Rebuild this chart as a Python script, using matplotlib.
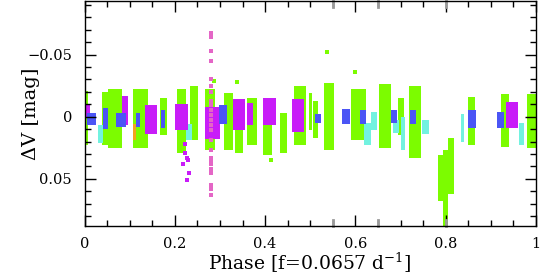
import matplotlib
matplotlib.use("Agg")
import matplotlib.pyplot as plt
import matplotlib.transforms as mtransforms
from matplotlib.ticker import MultipleLocator

# clusters of observations: (phase_lo, phase_hi, dV_lo, dV_hi)
green = [
    (0.000, 0.008, -0.021, 0.023), (0.038, 0.053, -0.020, 0.023),
    (0.053, 0.084, -0.022, 0.025), (0.107, 0.123, -0.022, 0.025),
    (0.123, 0.140, -0.022, 0.025), (0.167, 0.183, -0.015, 0.015),
    (0.205, 0.225, -0.022, 0.029), (0.233, 0.251, -0.025, 0.019),
    (0.267, 0.289, -0.022, 0.027), (0.310, 0.328, -0.019, 0.027),
    (0.333, 0.350, -0.012, 0.029), (0.361, 0.383, -0.015, 0.023),
    (0.395, 0.415, -0.005, 0.031), (0.432, 0.449, -0.003, 0.029),
    (0.465, 0.490, -0.025, 0.023), (0.498, 0.504, -0.019, 0.011),
    (0.507, 0.518, -0.013, 0.017), (0.530, 0.553, -0.027, 0.027),
    (0.590, 0.623, -0.022, 0.019), (0.652, 0.678, -0.026, 0.025),
    (0.694, 0.708, -0.015, 0.015), (0.718, 0.745, -0.025, 0.033),
    (0.784, 0.793, 0.031, 0.068), (0.793, 0.806, 0.027, 0.088),
    (0.806, 0.818, 0.017, 0.062), (0.850, 0.866, -0.016, 0.023),
    (0.923, 0.940, -0.018, 0.024), (0.980, 1.000, -0.018, 0.025),
]
cyan = [
    (0.030, 0.040, 0.007, 0.021), (0.225, 0.238, 0.006, 0.019),
    (0.620, 0.634, 0.005, 0.023), (0.634, 0.648, -0.004, 0.011),
    (0.683, 0.696, 0.003, 0.013), (0.700, 0.711, 0.000, 0.027),
    (0.747, 0.762, 0.003, 0.014), (0.833, 0.840, -0.002, 0.020),
    (0.962, 0.973, 0.005, 0.023),
]
orange = [(0.108, 0.115, 0.006, 0.019)]
magenta = [
    (0.003, 0.012, -0.010, 0.000), (0.083, 0.097, -0.017, 0.007),
    (0.135, 0.160, -0.009, 0.014), (0.200, 0.230, -0.010, 0.011),
    (0.267, 0.300, -0.008, 0.018), (0.328, 0.355, -0.014, 0.011),
    (0.361, 0.374, -0.011, 0.007), (0.395, 0.425, -0.015, 0.007),
    (0.460, 0.487, -0.014, 0.012), (0.934, 0.960, -0.012, 0.009),
]
blue = [
    (0.005, 0.025, -0.003, 0.007), (0.040, 0.052, -0.007, 0.010),
    (0.070, 0.092, -0.003, 0.008), (0.115, 0.123, -0.003, 0.008),
    (0.170, 0.178, -0.005, 0.009), (0.297, 0.315, -0.009, 0.006),
    (0.510, 0.523, -0.002, 0.005), (0.570, 0.588, -0.006, 0.006),
    (0.610, 0.623, -0.005, 0.006), (0.680, 0.692, -0.005, 0.005),
    (0.720, 0.735, -0.005, 0.006), (0.850, 0.868, -0.005, 0.009),
    (0.914, 0.930, -0.004, 0.009),
]

# single scattered points
pink_phase = 0.281
pink_dv = [-0.067, -0.064, -0.053, -0.045, -0.030, -0.025, -0.020, -0.013,
           -0.009, -0.005, -0.001, 0.003, 0.007, 0.011, 0.019, 0.027, 0.033,
           0.035, 0.038, 0.042, 0.045, 0.055, 0.058, 0.063]
mag_out_phase = [0.222, 0.222, 0.227, 0.218, 0.229, 0.231, 0.227]
mag_out_dv = [0.022, 0.029, 0.033, 0.038, 0.035, 0.045, 0.051]
green_out_phase = [0.538, 0.600, 0.414, 0.337, 0.286]
green_out_dv = [-0.052, -0.036, 0.035, -0.028, -0.029]
gray_marks = [0.55, 0.65, 0.80]

colors = {"green": "#7cfc00", "cyan": "#72f2e0", "orange": "#f4a21e",
          "magenta": "#c81cf8", "blue": "#4b55f5", "pink": "#e466c6"}

plt.rcParams["font.family"] = ["DejaVu Serif"]
plt.rcParams["mathtext.default"] = "regular"

fig = plt.figure(figsize=(5.4, 2.76), dpi=100)
ax = fig.add_axes([0.1565, 0.181, 0.836, 0.815])


def draw(clusters, color):
    lo = [c[0] for c in clusters]
    w = [c[1] - c[0] for c in clusters]
    b = [c[2] for c in clusters]
    h = [c[3] - c[2] for c in clusters]
    ax.bar(lo, h, width=w, bottom=b, align="edge", color=color, linewidth=0)


draw(green, colors["green"])
ax.scatter(green_out_phase, green_out_dv, s=5, marker="s", color=colors["green"], linewidths=0)
draw(cyan, colors["cyan"])
draw(orange, colors["orange"])
draw(magenta, colors["magenta"])
ax.scatter(mag_out_phase, mag_out_dv, s=6, marker="s", color=colors["magenta"], linewidths=0)
draw(blue, colors["blue"])
ax.scatter([pink_phase] * len(pink_dv), pink_dv, s=5, marker="s", color=colors["pink"], linewidths=0)

trans = mtransforms.blended_transform_factory(ax.transData, ax.transAxes)
for m in gray_marks:
    ax.plot([m, m], [0, 0.025], color="#9a9a9a", lw=2, transform=trans, clip_on=False)
    ax.plot([m, m], [0.975, 1], color="#9a9a9a", lw=2, transform=trans, clip_on=False)

ax.set_xlim(0, 1)
ax.set_ylim(0.088, -0.093)
ax.xaxis.set_major_locator(MultipleLocator(0.2))
ax.xaxis.set_minor_locator(MultipleLocator(0.05))
ax.yaxis.set_major_locator(MultipleLocator(0.05))
ax.yaxis.set_minor_locator(MultipleLocator(0.01))
ax.xaxis.set_major_formatter(plt.FuncFormatter(lambda v, p: "%g" % v))
ax.yaxis.set_major_formatter(plt.FuncFormatter(lambda v, p: ("%g" % v).replace("-", "\u2212")))
ax.tick_params(which="both", direction="in", top=True, right=True, width=1,
               labelsize=10.5, colors="black")
ax.tick_params(which="major", length=8)
ax.tick_params(axis="y", which="major", pad=9)
ax.tick_params(axis="x", which="major", pad=8)
ax.tick_params(which="minor", length=4.5)
for s in ax.spines.values():
    s.set_linewidth(1)

ax.set_xlabel("Phase [f=0.0657 d$^{-1}$]", fontsize=13.5, va="center")
ax.xaxis.set_label_coords(0.5, -0.163)
ax.set_ylabel("\u0394V [mag]", fontsize=14, va="center")
ax.yaxis.set_label_coords(-0.119, 0.5)

fig.savefig("out.png", dpi=100)
